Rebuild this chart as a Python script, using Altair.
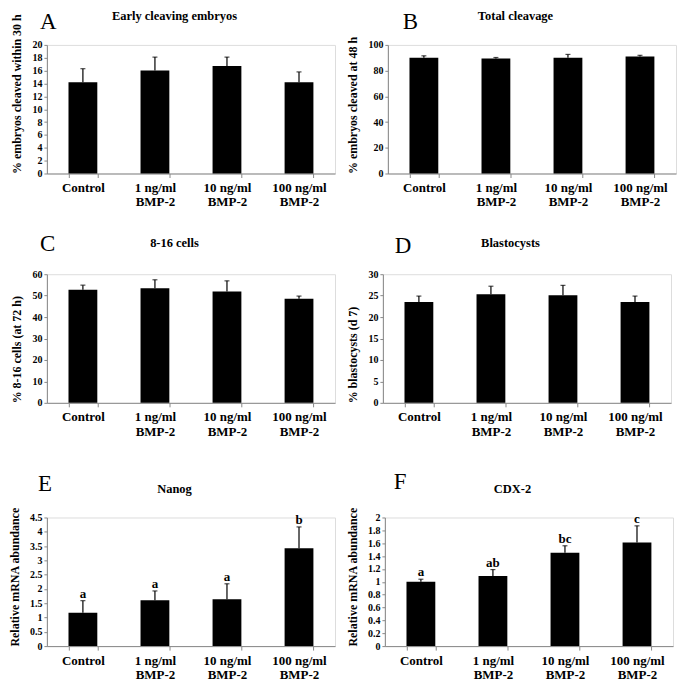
import altair as alt
import pandas as pd

categories = ["Control", "1 ng/ml\nBMP-2", "10 ng/ml\nBMP-2", "100 ng/ml\nBMP-2"]

panel_letters = ["A", "B", "C", "D", "E", "F"]
panel_titles = ["Early cleaving embryos", "Total cleavage", "8-16 cells",
                "Blastocysts", "Nanog", "CDX-2"]
y_titles = ["% embryos cleaved within 30 h", "% embryos cleaved at 48 h",
            "% 8-16 cells (at 72 h)", "% blastocysts (d 7)",
            "Relative mRNA abundance", "Relative mRNA abundance"]
y_max = [20, 100, 60, 30, 4.5, 2]
y_step = [2, 20, 10, 5, 0.5, 0.2]

means_A = [14.2, 16.0, 16.7, 14.2]
sem_A = [2.1, 2.1, 1.4, 1.6]
means_B = [90.1, 89.4, 90.1, 90.9]
sem_B = [1.4, 0.8, 2.5, 1.0]
means_C = [52.7, 53.4, 51.9, 48.6]
sem_C = [2.2, 4.0, 5.0, 1.2]
means_D = [23.5, 25.3, 25.1, 23.5]
sem_D = [1.4, 1.9, 2.3, 1.4]
means_E = [1.17, 1.60, 1.64, 3.42]
sem_E = [0.42, 0.33, 0.54, 0.75]
means_F = [1.00, 1.09, 1.45, 1.61]
sem_F = [0.04, 0.10, 0.11, 0.26]
sig_E = ["a", "a", "a", "b"]
sig_F = ["a", "ab", "bc", "c"]

means = [means_A, means_B, means_C, means_D, means_E, means_F]
sems = [sem_A, sem_B, sem_C, sem_D, sem_E, sem_F]
sigs = [None, None, None, None, sig_E, sig_F]

# layout-only settings (pixel offsets of the panel letter / title)
letter_x = [-7, 15, -7, 12, -9, 9]
letter_y = [-16, -16, -23, -21, -27, -29]
title_y = [-25, -25, -27, -27, -25, -25]

W, H = 289, 129
SERIF = "Liberation Serif"


def panel(i):
    df = pd.DataFrame({
        "cat": categories,
        "mean": means[i],
        "upper": [m + s for m, s in zip(means[i], sems[i])],
    })
    if sigs[i] is not None:
        df["sig"] = sigs[i]
    n_ticks = int(round(y_max[i] / y_step[i]))
    ticks = [round(k * y_step[i], 3) for k in range(n_ticks + 1)]

    x = alt.X("cat:N", sort=categories, title=None,
              scale=alt.Scale(paddingInner=0.6, paddingOuter=0.3),
              axis=alt.Axis(labelAngle=0, tickBand="extent",
                            labelExpr="split(datum.label, '\\n')",
                            labelFontSize=13, labelFont=SERIF,
                            labelFontWeight="bold", labelLineHeight=14.5,
                            labelPadding=4, tickSize=4))
    y_scale = alt.Scale(domain=[0, y_max[i]], nice=False, zero=True)
    y_axis = alt.Axis(values=ticks, tickCount=len(ticks), format=".1~f",
                      grid=False, labelOverlap=False,
                      labelFontSize=10, labelFont=SERIF,
                      labelFontWeight="bold", tickSize=3,
                      labelPadding=2, titleFont=SERIF,
                      titleFontSize=12, titleFontWeight="bold",
                      titleAnchor="start", titlePadding=8)
    base = alt.Chart(df)
    bars = base.mark_bar(color="black").encode(
        x=x,
        y=alt.Y("mean:Q", scale=y_scale, title=y_titles[i], axis=y_axis),
    )
    rule = base.mark_rule(color="black", strokeWidth=1.2).encode(
        x=alt.X("cat:N", sort=categories),
        y=alt.Y("mean:Q", axis=y_axis), y2="upper:Q")
    cap = base.mark_tick(color="black", size=5, thickness=1.2).encode(
        x=alt.X("cat:N", sort=categories), y=alt.Y("upper:Q", axis=y_axis))
    layers = [bars, rule, cap]
    if sigs[i] is not None:
        layers.append(base.mark_text(
            font=SERIF, fontSize=13, fontWeight="bold", dy=-3,
            baseline="alphabetic", color="black").encode(
            x=alt.X("cat:N", sort=categories),
            y=alt.Y("upper:Q", axis=y_axis), text="sig:N"))
    lab = alt.Chart(pd.DataFrame({"t": [panel_letters[i]]})).mark_text(
        font=SERIF, fontSize=23, align="left", baseline="alphabetic",
        color="black").encode(
        text="t:N", x=alt.value(letter_x[i]), y=alt.value(letter_y[i]))
    ttl = alt.Chart(pd.DataFrame({"t": [panel_titles[i]]})).mark_text(
        font=SERIF, fontSize=12.5, fontWeight="bold", align="center",
        baseline="alphabetic", color="black").encode(
        text="t:N", x=alt.value(128), y=alt.value(title_y[i]))
    layers += [lab, ttl]
    return alt.layer(*layers).properties(width=W, height=H)


row1 = alt.hconcat(panel(0), panel(1), spacing=10)
row2 = alt.hconcat(panel(2), panel(3), spacing=10)
row3 = alt.hconcat(panel(4), panel(5), spacing=10)

chart = alt.vconcat(alt.vconcat(row1, row2, spacing=23), row3, spacing=31).properties(
    padding={"left": 0, "top": 0, "right": 0, "bottom": 0}
).configure_view(stroke=None).configure_axis(
    domainColor="black", tickColor="black", labelColor="black",
    titleColor="black", domainWidth=1.2, tickWidth=1.2
).configure(background="white")

chart.save("out.html", embed_options={"renderer": "svg", "actions": False})
